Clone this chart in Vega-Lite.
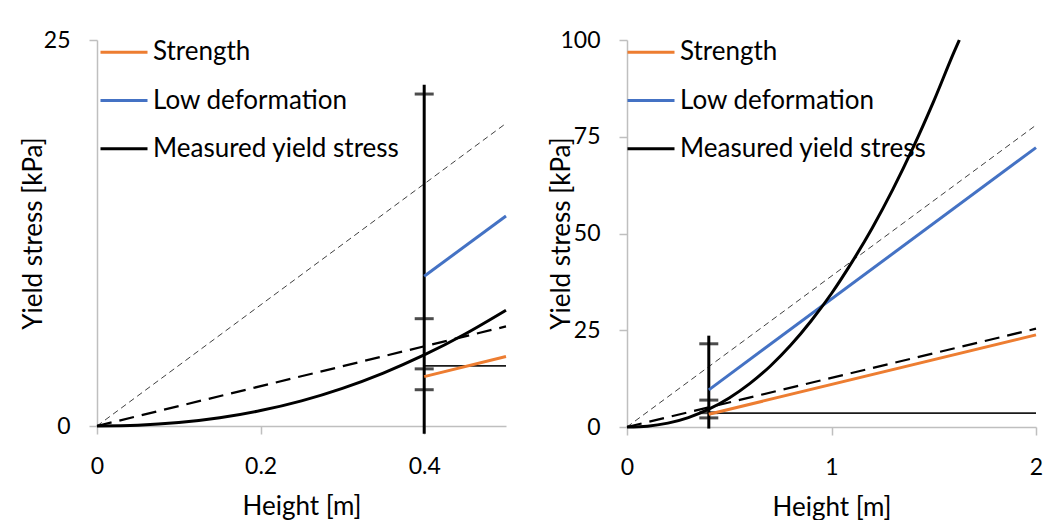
{
  "$schema": "https://vega.github.io/schema/vega-lite/v6.json",
  "padding": {"left": 20, "top": 27, "right": 10, "bottom": 0},
  "background": "white",
  "spacing": 121,
  "bounds": "flush",
  "config": {
    "view": {"stroke": null},
    "font": "Lato",
    "axis": {
      "grid": false,
      "domainColor": "#BFBFBF",
      "domainWidth": 1.5,
      "tickColor": "#BFBFBF",
      "tickWidth": 1.5,
      "tickSize": 8,
      "labelFont": "Lato",
      "labelFontSize": 23,
      "labelColor": "#000000",
      "titleFont": "Lato",
      "titleFontSize": 26,
      "titleFontWeight": "normal",
      "titleColor": "#000000"
    },
    "axisX": {"labelPadding": 21, "labelFlush": false, "labelOverlap": false},
    "axisY": {"labelPadding": 19, "labelOverlap": false},
    "legend": {
      "orient": "none",
      "labelFont": "Lato",
      "labelFontSize": 26,
      "labelColor": "#000000",
      "symbolType": "stroke",
      "symbolSize": 2209,
      "symbolStrokeWidth": 3,
      "rowPadding": 10.3,
      "labelOffset": 4,
      "padding": 0,
      "labelLimit": 400
    }
  },
  "resolve": {"scale": {"color": "independent"}, "legend": {"color": "independent"}},
  "datasets": {
    "left": [
      {"s": "Ref1", "x": 0, "y": 0},
      {"s": "Ref1", "x": 0.5, "y": 19.6},
      {"s": "Ref2", "x": 0, "y": 0},
      {"s": "Ref2", "x": 0.5, "y": 6.45},
      {"s": "Flat", "x": 0.4, "y": 3.9},
      {"s": "Flat", "x": 0.5, "y": 3.9},
      {"s": "Strength", "x": 0.4, "y": 3.2},
      {"s": "Strength", "x": 0.5, "y": 4.5},
      {"s": "Low deformation", "x": 0.4, "y": 9.7},
      {"s": "Low deformation", "x": 0.5, "y": 13.6},
      {"s": "Measured yield stress", "x": 0, "y": 0},
      {"s": "Measured yield stress", "x": 0.05, "y": 0.05},
      {"s": "Measured yield stress", "x": 0.1, "y": 0.22},
      {"s": "Measured yield stress", "x": 0.15, "y": 0.53},
      {"s": "Measured yield stress", "x": 0.2, "y": 1.0},
      {"s": "Measured yield stress", "x": 0.25, "y": 1.63},
      {"s": "Measured yield stress", "x": 0.3, "y": 2.44},
      {"s": "Measured yield stress", "x": 0.35, "y": 3.43},
      {"s": "Measured yield stress", "x": 0.4, "y": 4.6},
      {"s": "Measured yield stress", "x": 0.45, "y": 5.96},
      {"s": "Measured yield stress", "x": 0.5, "y": 7.5},
      {"s": "Bar", "x": 0.4, "y": -0.5, "y2": 22.1},
      {"s": "Cap", "x": 0.4, "y": 21.5},
      {"s": "Cap", "x": 0.4, "y": 6.95},
      {"s": "Cap", "x": 0.4, "y": 3.7},
      {"s": "Cap", "x": 0.4, "y": 2.35}
    ],
    "right": [
      {"s": "Ref1", "x": 0, "y": 0},
      {"s": "Ref1", "x": 2, "y": 78},
      {"s": "Ref2", "x": 0, "y": 0},
      {"s": "Ref2", "x": 2, "y": 25.4},
      {"s": "Flat", "x": 0.4, "y": 3.6},
      {"s": "Flat", "x": 2, "y": 3.6},
      {"s": "Strength", "x": 0.4, "y": 3.3},
      {"s": "Strength", "x": 2, "y": 23.8},
      {"s": "Low deformation", "x": 0.4, "y": 9.6},
      {"s": "Low deformation", "x": 2, "y": 72.2},
      {"s": "Measured yield stress", "x": 0, "y": 0},
      {"s": "Measured yield stress", "x": 0.1, "y": 0.22},
      {"s": "Measured yield stress", "x": 0.2, "y": 1.0},
      {"s": "Measured yield stress", "x": 0.3, "y": 2.44},
      {"s": "Measured yield stress", "x": 0.4, "y": 4.6},
      {"s": "Measured yield stress", "x": 0.5, "y": 7.5},
      {"s": "Measured yield stress", "x": 0.6, "y": 11.2},
      {"s": "Measured yield stress", "x": 0.7, "y": 15.7},
      {"s": "Measured yield stress", "x": 0.8, "y": 21.1},
      {"s": "Measured yield stress", "x": 0.9, "y": 27.4},
      {"s": "Measured yield stress", "x": 1.0, "y": 34.5},
      {"s": "Measured yield stress", "x": 1.1, "y": 42.6},
      {"s": "Measured yield stress", "x": 1.2, "y": 51.5},
      {"s": "Measured yield stress", "x": 1.3, "y": 61.4},
      {"s": "Measured yield stress", "x": 1.4, "y": 72.3},
      {"s": "Measured yield stress", "x": 1.5, "y": 84.2},
      {"s": "Measured yield stress", "x": 1.6, "y": 97.0},
      {"s": "Measured yield stress", "x": 1.625, "y": 100},
      {"s": "Bar", "x": 0.4, "y": -0.4, "y2": 23.6},
      {"s": "Cap", "x": 0.4, "y": 21.5},
      {"s": "Cap", "x": 0.4, "y": 6.95},
      {"s": "Cap", "x": 0.4, "y": 3.7},
      {"s": "Cap", "x": 0.4, "y": 2.35}
    ]
  },
  "hconcat": [
    {
      "width": 409,
      "height": 386,
      "data": {"name": "left"},
      "encoding": {
        "x": {"field": "x", "type": "quantitative",
          "scale": {"domain": [0, 0.5], "nice": false, "zero": false},
          "axis": {"values": [0, 0.2, 0.4], "format": "~g", "title": "Height [m]", "titleY": 88, "titleBaseline": "alphabetic"}},
        "y": {"field": "y", "type": "quantitative",
          "scale": {"domain": [0, 25], "nice": false, "zero": false},
          "axis": {"values": [0, 25], "title": "Yield stress [kPa]", "titleX": -56, "titleY": 193, "titleBaseline": "alphabetic", "titleAngle": -90, "titleAlign": "center"}}
      },
      "layer": [
        {"transform": [{"filter": "datum.s === 'Ref1'"}],
         "mark": {"type": "line", "strokeDash": [6, 4], "strokeWidth": 1, "color": "#404040"}},
        {"transform": [{"filter": "datum.s === 'Ref2'"}],
         "mark": {"type": "line", "strokeDash": [15, 8], "strokeWidth": 2.25, "color": "#000000"}},
        {"transform": [{"filter": "datum.s === 'Flat'"}],
         "mark": {"type": "line", "strokeWidth": 1.75, "color": "#1a1a1a"}},
        {"transform": [{"filter": "datum.s === 'Bar'"}],
         "mark": {"type": "rule", "strokeWidth": 3, "color": "#000000"},
         "encoding": {"y2": {"field": "y2"}}},
        {"transform": [{"filter": "datum.s === 'Cap'"}],
         "mark": {"type": "tick", "orient": "horizontal", "size": 19, "thickness": 3, "color": "#000000"}},
        {"transform": [{"filter": "datum.s === 'Strength' || datum.s === 'Low deformation' || datum.s === 'Measured yield stress'"}],
         "mark": {"type": "line", "strokeWidth": 3, "interpolate": "monotone"},
         "encoding": {
           "color": {"field": "s", "type": "nominal",
             "scale": {"domain": ["Strength", "Low deformation", "Measured yield stress"], "range": ["#ED7D31", "#4472C4", "#000000"]},
             "legend": {"title": null, "orient": "none", "legendX": 2, "legendY": -12.8}}
         }}
      ]
    },
    {
      "width": 409,
      "height": 387,
      "data": {"name": "right"},
      "encoding": {
        "x": {"field": "x", "type": "quantitative",
          "scale": {"domain": [0, 2], "nice": false, "zero": false},
          "axis": {"values": [0, 1, 2], "format": "~g", "title": "Height [m]", "titleY": 88, "titleBaseline": "alphabetic"}},
        "y": {"field": "y", "type": "quantitative",
          "scale": {"domain": [0, 100], "nice": false, "zero": false},
          "axis": {"values": [0, 25, 50, 75, 100], "title": "Yield stress [kPa]", "titleX": -58, "titleY": 193, "titleBaseline": "alphabetic", "titleAngle": -90, "titleAlign": "center"}}
      },
      "layer": [
        {"transform": [{"filter": "datum.s === 'Ref1'"}],
         "mark": {"type": "line", "strokeDash": [6, 4], "strokeWidth": 1, "color": "#404040"}},
        {"transform": [{"filter": "datum.s === 'Ref2'"}],
         "mark": {"type": "line", "strokeDash": [15, 8], "strokeWidth": 2.25, "color": "#000000"}},
        {"transform": [{"filter": "datum.s === 'Flat'"}],
         "mark": {"type": "line", "strokeWidth": 1.75, "color": "#1a1a1a"}},
        {"transform": [{"filter": "datum.s === 'Bar'"}],
         "mark": {"type": "rule", "strokeWidth": 3, "color": "#000000"},
         "encoding": {"y2": {"field": "y2"}}},
        {"transform": [{"filter": "datum.s === 'Cap'"}],
         "mark": {"type": "tick", "orient": "horizontal", "size": 19, "thickness": 3, "color": "#000000"}},
        {"transform": [{"filter": "datum.s === 'Strength' || datum.s === 'Low deformation' || datum.s === 'Measured yield stress'"}],
         "mark": {"type": "line", "strokeWidth": 3, "interpolate": "monotone"},
         "encoding": {
           "color": {"field": "s", "type": "nominal",
             "scale": {"domain": ["Strength", "Low deformation", "Measured yield stress"], "range": ["#ED7D31", "#4472C4", "#000000"]},
             "legend": {"title": null, "orient": "none", "legendX": -1, "legendY": -12.8}}
         }}
      ]
    }
  ]
}
